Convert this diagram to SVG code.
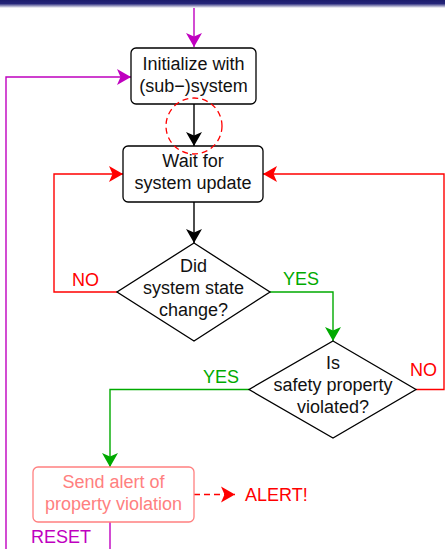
<svg xmlns="http://www.w3.org/2000/svg" width="445" height="549" viewBox="0 0 445 549">
<defs>
<linearGradient id="hdr" x1="0" y1="0" x2="0" y2="1">
<stop offset="0" stop-color="#1c1c6c"/>
<stop offset="0.45" stop-color="#26267a"/>
<stop offset="1" stop-color="#ffffff"/>
</linearGradient>
<marker id="ak" markerUnits="userSpaceOnUse" markerWidth="16" markerHeight="18" viewBox="-15 -9 16 18" refX="0" refY="0" orient="auto"><path d="M0,0 L-14,-8 L-10.5,0 L-14,8 Z" fill="#000"/></marker>
<marker id="am" markerUnits="userSpaceOnUse" markerWidth="16" markerHeight="18" viewBox="-15 -9 16 18" refX="0" refY="0" orient="auto"><path d="M0,0 L-14,-8 L-10.5,0 L-14,8 Z" fill="#bf00bf"/></marker>
<marker id="ar" markerUnits="userSpaceOnUse" markerWidth="16" markerHeight="18" viewBox="-15 -9 16 18" refX="0" refY="0" orient="auto"><path d="M0,0 L-14,-8 L-10.5,0 L-14,8 Z" fill="#ff0000"/></marker>
<marker id="ag" markerUnits="userSpaceOnUse" markerWidth="16" markerHeight="18" viewBox="-15 -9 16 18" refX="0" refY="0" orient="auto"><path d="M0,0 L-14,-8 L-10.5,0 L-14,8 Z" fill="#00aa00"/></marker>
</defs>
<style>
text{font-family:"Liberation Sans",Arial,sans-serif;font-size:18px;}
.t{text-anchor:middle;fill:#111;}
.node{fill:#fff;stroke:#000;stroke-width:1.3;}
.c{fill:none;stroke-width:1.4;}
.k{stroke:#000;}
.m{stroke:#bf00bf;}
.r{stroke:#ff0000;}
.g{stroke:#00aa00;}
</style>
<rect x="0" y="0" width="445" height="8" fill="url(#hdr)"/>
<g id="connectors">
<path class="c m" d="M194,8 V47" marker-end="url(#am)"/>
<path class="c m" d="M110,522 V552 H6 V77 H131" marker-end="url(#am)"/>
<path class="c k" d="M194,104 V146" marker-end="url(#ak)"/>
<path class="c k" d="M194,202 V243" marker-end="url(#ak)"/>
<path class="c r" d="M117,292 H54 V174 H123" marker-end="url(#ar)"/>
<path class="c g" d="M270,292 H333 V341" marker-end="url(#ag)"/>
<path class="c r" d="M416,389.5 H444 V174 H263" marker-end="url(#ar)"/>
<path class="c g" d="M249,389.5 H110 V467" marker-end="url(#ag)"/>
<path class="c r" d="M194,494.5 H235" stroke-dasharray="6,4" marker-end="url(#ar)"/>
<text x="72" y="286" fill="#ff0000">NO</text>
<text x="283" y="285" fill="#00aa00">YES</text>
<text x="410" y="376" fill="#ff0000">NO</text>
<text x="203" y="383" fill="#00aa00">YES</text>
<text x="31" y="543" fill="#bf00bf">RESET</text>
<text x="245" y="501" fill="#ff0000">ALERT!</text>
</g>
<g id="init">
<rect class="node" x="131" y="48" width="125" height="56" rx="5"/>
<text class="t" x="193.5" y="70">Initialize with</text>
<text class="t" x="193.5" y="92">(sub−)system</text>
</g>
<g id="wait">
<rect class="node" x="123" y="146" width="140" height="56" rx="5"/>
<text class="t" x="193" y="167">Wait for</text>
<text class="t" x="193" y="189">system update</text>
</g>
<g id="changed">
<path class="node" d="M194,243 L270,292 L194,341 L117,292 Z"/>
<text class="t" x="193.5" y="272">Did</text>
<text class="t" x="193.5" y="294">system state</text>
<text class="t" x="193.5" y="316">change?</text>
</g>
<g id="violated">
<path class="node" d="M333,341 L416,389.5 L333,438 L249,389.5 Z"/>
<text class="t" x="333" y="369">Is</text>
<text class="t" x="333" y="391">safety property</text>
<text class="t" x="333" y="413">violated?</text>
</g>
<g id="alert">
<rect x="33" y="467" width="161" height="55" rx="5" fill="#fff" stroke="#ff8080" stroke-width="1.3"/>
<text class="t" x="113.5" y="488" style="fill:#ff8080">Send alert of</text>
<text class="t" x="113.5" y="510" style="fill:#ff8080">property violation</text>
</g>
<g id="highlight">
<circle cx="194" cy="126" r="28" fill="none" stroke="#ff0000" stroke-width="1.3" stroke-dasharray="6,4"/>
</g>
</svg>
